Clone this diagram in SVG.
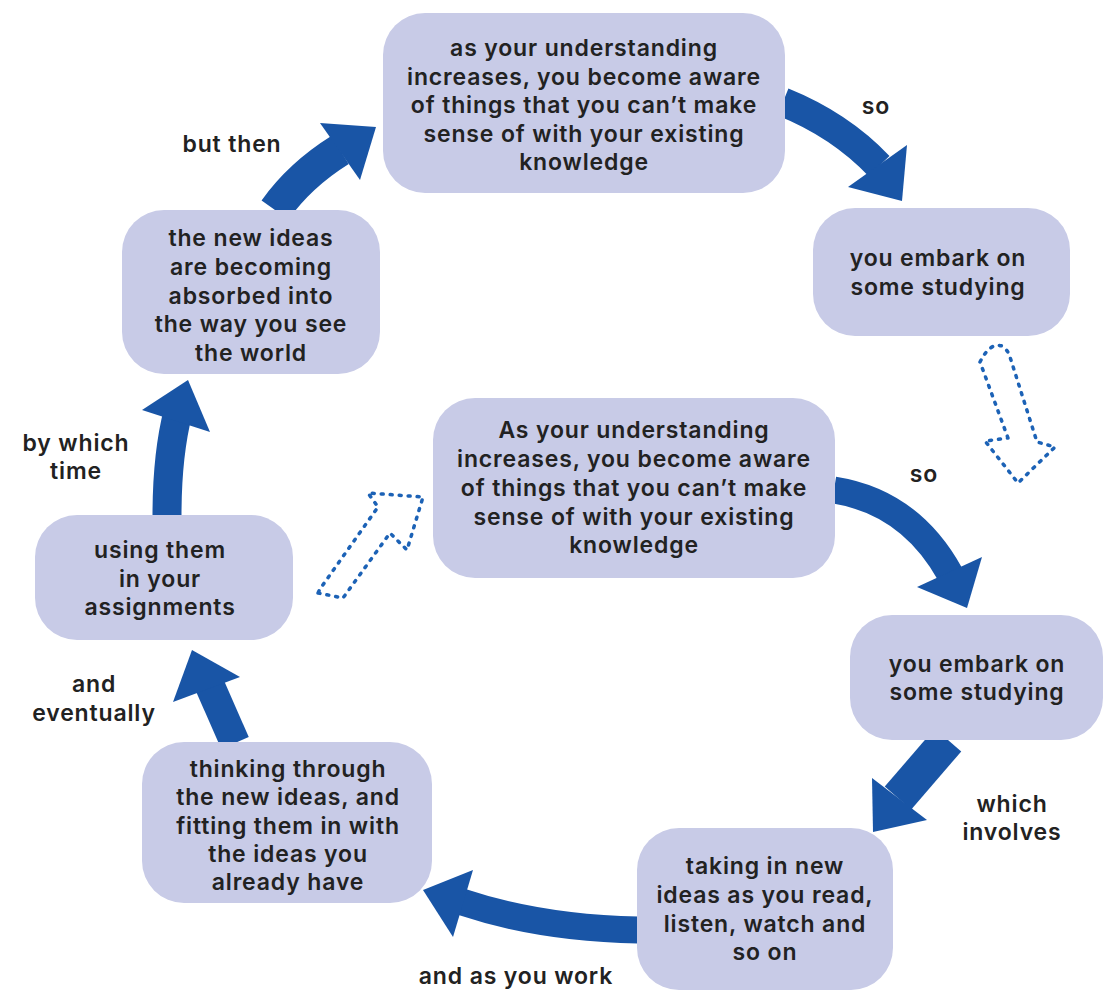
<svg xmlns="http://www.w3.org/2000/svg" width="1105" height="992" viewBox="0 0 1105 992">
<style>
.box{fill:#c8cbe7;}
.t{font-family:Inter,"Open Sans","Liberation Sans",sans-serif;font-weight:600;font-size:23px;letter-spacing:0.85px;fill:#222;text-anchor:middle;dominant-baseline:central;}
.shaft{fill:none;stroke:#1955a6;stroke-linecap:butt;}
.head{fill:#1955a6;}
.dot{fill:none;stroke:#1c62b6;stroke-width:3.5;stroke-linecap:round;stroke-linejoin:round;stroke-dasharray:2 7;}
</style>
<rect width="1105" height="992" fill="#fff"/>
<g id="connectors">
  <path class="shaft" stroke-width="29" d="M783,102 Q840,125 879,166"/>
  <polygon class="head" points="907,145 902,201 848,187"/>
  <path class="shaft" stroke-width="33" d="M275,210 Q300,175 340,150"/>
  <polygon class="head" points="320,123 376,127 360,180"/>
  <path class="shaft" stroke-width="27" d="M834,490 Q910,502 950,574"/>
  <polygon class="head" points="982,557 967,608 917,587"/>
  <path class="shaft" stroke-width="35" d="M948,740 L898,798"/>
  <polygon class="head" points="872,778 873,832 927,820"/>
  <path class="shaft" stroke-width="27" d="M638,930 Q540,928 462,902"/>
  <polygon class="head" points="473,870 423,890 453,937"/>
  <path class="shaft" stroke-width="30" d="M235,743 L210,686"/>
  <polygon class="head" points="173,702 192,650 240,677"/>
  <path class="shaft" stroke-width="29" d="M167,516 Q167,455 178,412"/>
  <polygon class="head" points="142,410 188,380 210,432"/>
  <path class="dot" d="M1008,438 L980,362 Q990,342 1002,346 Q1008,350 1010,357 L1037,442 L1055,447 L1018,483 L985,441 Z"/>
  <path class="dot" d="M318,593 L343,598 L390,533 L407,550 L423,497 L368,493 L378,507 L320,589 Z"/>
</g>
<g id="n1"><rect class="box" x="383" y="13" width="402" height="180" rx="42"/>
<text class="t" x="584" y="48">as your understanding</text>
<text class="t" x="584" y="77">increases, you become aware</text>
<text class="t" x="584" y="105">of things that you can’t make</text>
<text class="t" x="584" y="134">sense of with your existing</text>
<text class="t" x="584" y="162">knowledge</text></g>
<g id="n2"><rect class="box" x="813" y="208" width="257" height="128" rx="42"/>
<text class="t" x="938" y="258">you embark on</text>
<text class="t" x="938" y="287">some studying</text></g>
<g id="n3"><rect class="box" x="433" y="398" width="402" height="180" rx="42"/>
<text class="t" x="634" y="430">As your understanding</text>
<text class="t" x="634" y="459">increases, you become aware</text>
<text class="t" x="634" y="488">of things that you can’t make</text>
<text class="t" x="634" y="517">sense of with your existing</text>
<text class="t" x="634" y="545">knowledge</text></g>
<g id="n4"><rect class="box" x="850" y="615" width="253" height="125" rx="42"/>
<text class="t" x="977" y="664">you embark on</text>
<text class="t" x="977" y="692">some studying</text></g>
<g id="n5"><rect class="box" x="637" y="828" width="256" height="162" rx="42"/>
<text class="t" x="765" y="866">taking in new</text>
<text class="t" x="765" y="895">ideas as you read,</text>
<text class="t" x="765" y="924">listen, watch and</text>
<text class="t" x="765" y="952">so on</text></g>
<g id="n6"><rect class="box" x="142" y="742" width="290" height="161" rx="42"/>
<text class="t" x="288" y="769">thinking through</text>
<text class="t" x="288" y="797">the new ideas, and</text>
<text class="t" x="288" y="826">fitting them in with</text>
<text class="t" x="288" y="854">the ideas you</text>
<text class="t" x="288" y="882">already have</text></g>
<g id="n7"><rect class="box" x="35" y="515" width="258" height="125" rx="42"/>
<text class="t" x="160" y="550">using them</text>
<text class="t" x="160" y="579">in your</text>
<text class="t" x="160" y="607">assignments</text></g>
<g id="n8"><rect class="box" x="122" y="210" width="258" height="164" rx="42"/>
<text class="t" x="251" y="238">the new ideas</text>
<text class="t" x="251" y="267">are becoming</text>
<text class="t" x="251" y="296">absorbed into</text>
<text class="t" x="251" y="324">the way you see</text>
<text class="t" x="251" y="353">the world</text></g>
<g id="labels">
<text class="t" x="876" y="106">so</text>
<text class="t" x="232" y="144">but then</text>
<text class="t" x="924" y="474">so</text>
<text class="t" x="76" y="443">by which</text>
<text class="t" x="76" y="471">time</text>
<text class="t" x="94" y="684">and</text>
<text class="t" x="94" y="713">eventually</text>
<text class="t" x="1012" y="804">which</text>
<text class="t" x="1012" y="832">involves</text>
<text class="t" x="516" y="976">and as you work</text>
</g>
</svg>
